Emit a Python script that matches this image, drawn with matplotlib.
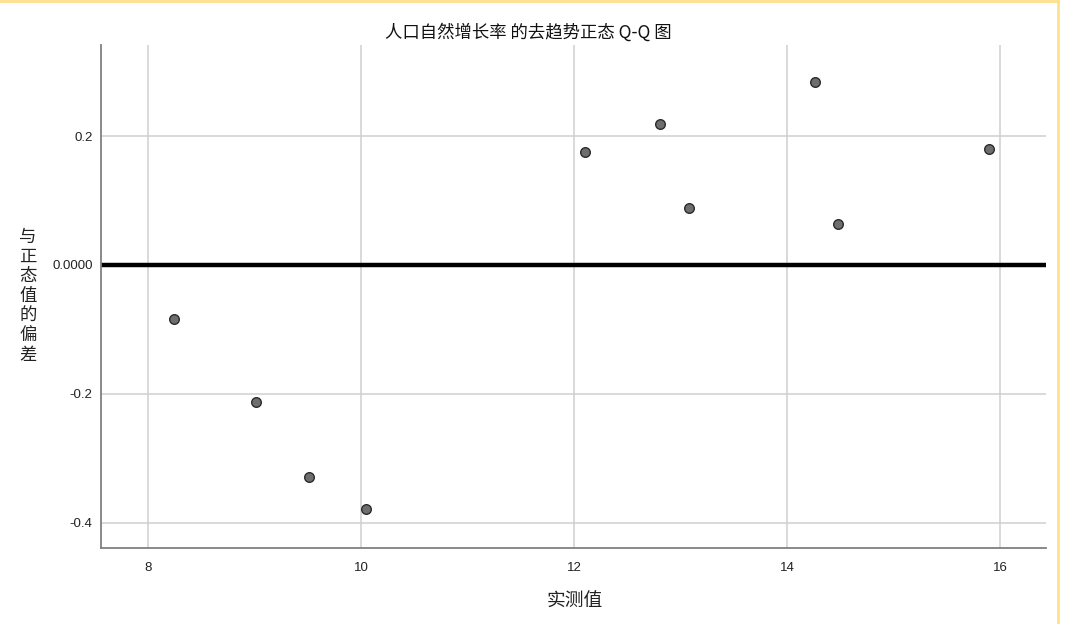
import matplotlib
matplotlib.use("Agg")
import matplotlib.pyplot as plt
from matplotlib.lines import Line2D

plt.rcParams['font.family'] = ['Noto Sans CJK SC', 'DejaVu Sans']

title = "人口自然增长率 的去趋势正态 Q-Q 图"
xlabel = "实测值"
ylabel = "与正态值的偏差"

observed = [8.24, 9.01, 9.51, 10.05, 12.10, 12.81, 13.08, 14.26, 14.48, 15.90]
deviation = [-0.084, -0.212, -0.329, -0.378, 0.175, 0.219, 0.088, 0.284, 0.064, 0.180]

xticks = [8, 10, 12, 14, 16]
yticks = [-0.4, -0.2, 0.0, 0.2]
ytick_labels = ["-0.4", "-0.2", "0.0000", "0.2"]

fig = plt.figure(figsize=(10.86, 6.24), dpi=100)
ax = fig.add_axes([101/1086, 1-548/624, (1046-101)/1086, (548-45)/624])

ax.set_xlim(7.559, 16.432)
ax.set_ylim(-0.4388, 0.3411)
ax.set_xticks(xticks)
ax.set_xticklabels([str(t) for t in xticks])
ax.set_yticks(yticks)
ax.set_yticklabels(ytick_labels)
ax.tick_params(length=0, labelsize=9.5, colors='#222222', pad=6)
ax.tick_params(axis='x', pad=10)
for lbl in ax.get_xticklabels() + ax.get_yticklabels():
    lbl.set_family(['Liberation Sans', 'DejaVu Sans'])

ax.grid(True, color='#cfcfcf', linewidth=1.1)
ax.set_axisbelow(True)
for s in ['top', 'right']:
    ax.spines[s].set_visible(False)
for s in ['left', 'bottom']:
    ax.spines[s].set_color('#808080')
    ax.spines[s].set_linewidth(1.3)

ax.axhline(0, color='black', linewidth=3.2, zorder=2)
ax.scatter(observed, deviation, s=48, c='#6e6e6e', edgecolors='#2b2b2b',
           linewidths=1.0, zorder=3)

fig.text(528/1086, 1-32/624, title, ha='center', va='center', fontsize=12.5,
         fontweight='medium', color='#111111')
fig.text(575/1086, 1-601/624, xlabel, ha='center', va='center', fontsize=13.5,
         fontweight='medium', color='#222222')
fig.text(28/1086, 1-296/624, "\n".join(ylabel), ha='center', va='center',
         fontsize=12.5, fontweight='medium', color='#222222', linespacing=1.12)

# yellow frame
fig.add_artist(Line2D([0, 1058/1086], [1-1/624, 1-1/624], transform=fig.transFigure,
                      color='#ffe08a', linewidth=2))
fig.add_artist(Line2D([1058/1086, 1058/1086], [0, 1-1/624], transform=fig.transFigure,
                      color='#ffe08a', linewidth=2))

fig.savefig("out.png", dpi=100)
